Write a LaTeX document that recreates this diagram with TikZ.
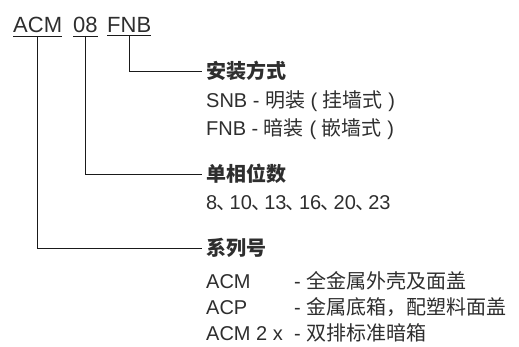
\documentclass[tikz,border=0pt]{standalone}
\usepackage{fontspec}
\setmainfont{Liberation Sans}
\newfontfamily\cjkfont{Noto Sans CJK SC}
\usetikzlibrary{positioning}
\definecolor{codeInk}{HTML}{2e2e2e}
\definecolor{codeLine}{HTML}{1a1a1a}
\newcommand{\zh}[1]{{\cjkfont #1}}
\newcommand{\dun}{\kern-0.04em{\cjkfont 、}\kern-0.34em}
\tikzset{
  part/.style={anchor=base west, inner xsep=0pt, inner ysep=2.5pt,
              font=\fontsize{22}{26}\selectfont, text=codeInk},
  head/.style={anchor=west, inner xsep=4pt, inner ysep=2pt,
              font=\fontsize{20}{24}\selectfont\cjkfont\bfseries, text=codeInk},
  item/.style={anchor=base west, inner sep=0pt,
              font=\fontsize{20}{24}\selectfont, text=codeInk},
  lead/.style={draw=codeLine, line width=0.8pt},
}

\begin{document}
\begin{tikzpicture}[x=1pt,y=-1pt]
    \useasboundingbox (0,0) rectangle (519,347);
    % model code
    \node[part] (acm) at (13,33) {ACM};
    \node[part] (num) at (73,33) {08};
    \node[part] (fnb) at (107,33) {FNB};
    \foreach \p in {acm,num,fnb}{
      \draw[lead] (\p.south west) -- (\p.south east);}
    % headings
    \node[head] (mount) at (202,71) {安装方式};
    \node[head] (phase) at (202,174) {单相位数};
    \node[head] (series) at (202,248) {系列号};
    % items
    \node[item] (snb) at (206,108) {SNB - \zh{明装} ( \zh{挂墙式} )};
    \node[item] (fnbi) at (206,136) {FNB - \zh{暗装} ( \zh{嵌墙式} )};
    \node[item] (ways) at (206,210) {8\dun 10\dun 13\dun 16\dun 20\dun 23};
    \foreach \n/\t/\d/\y in {acmi/ACM/\zh{全金属外壳及面盖}/288,
                             acp/ACP/\zh{金属底箱，配塑料面盖}/314,
                             acmx/ACM 2 x/\zh{双排标准暗箱}/340}{
      \node[item] (\n) at (206,\y) {\t};
      \node[item] (\n d) at (294,\y) {- \d};}
    % leaders
    \draw[lead] (fnb.south) |- (mount.west);
    \draw[lead] (num.south) |- (phase.west);
    \draw[lead] (acm.south) |- (series.west);
\end{tikzpicture}
\end{document}
